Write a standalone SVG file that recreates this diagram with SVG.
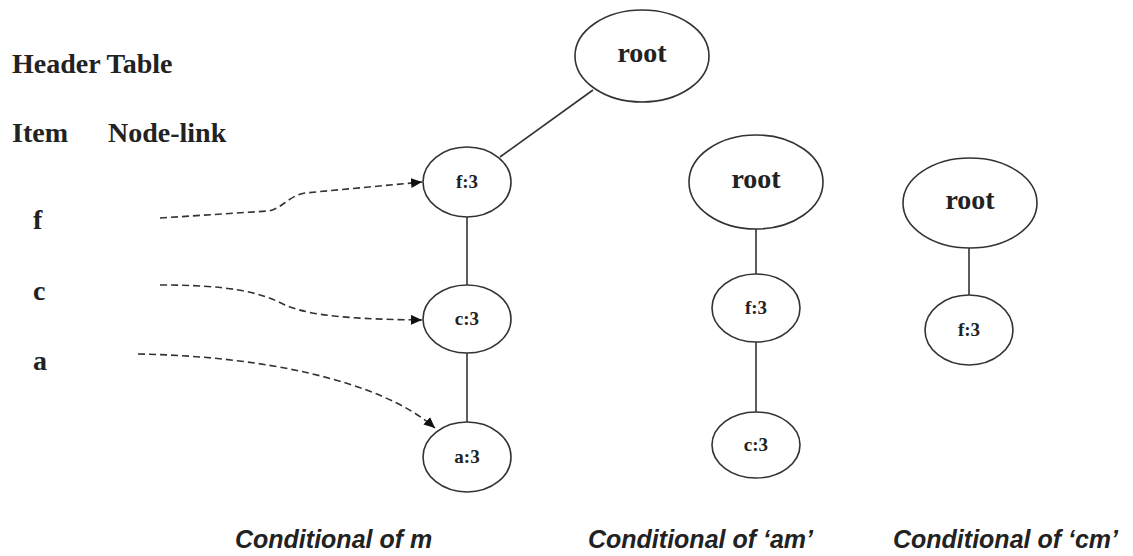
<svg xmlns="http://www.w3.org/2000/svg" width="1133" height="556" viewBox="0 0 1133 556">
<defs>
<style>
.node ellipse{fill:#fff;stroke:#333;stroke-width:1.6}
.lbl{font-family:"Liberation Serif","Times New Roman",serif;font-weight:bold;fill:#222;text-anchor:middle}
.big{font-size:28px}
.small{font-size:19px}
.hdr{font-family:"Liberation Serif","Times New Roman",serif;font-weight:bold;font-size:28px;fill:#222}
.cap{font-family:"Liberation Sans",Arial,sans-serif;font-weight:bold;font-style:italic;font-size:25px;fill:#222}
.edge{stroke:#333;stroke-width:1.6;fill:none}
.link{stroke:#333;stroke-width:1.6;fill:none;stroke-dasharray:7 4}
</style>
<marker id="arr" markerUnits="userSpaceOnUse" markerWidth="12" markerHeight="10" refX="11" refY="5" orient="auto">
<path d="M0,0 L11,5 L0,10 z" fill="#111"/>
</marker>
</defs>
<rect width="1133" height="556" fill="#fff"/>

<g id="header-table">
<text class="hdr" x="12" y="73">Header Table</text>
<text class="hdr" x="12" y="142">Item</text>
<text class="hdr" x="108" y="142">Node-link</text>
<text class="hdr" x="33" y="229">f</text>
<text class="hdr" x="33" y="300">c</text>
<text class="hdr" x="33" y="370">a</text>
</g>

<g id="connectors">
<line class="edge" x1="500" y1="157" x2="593" y2="90"/>
<line class="edge" x1="467" y1="217" x2="467" y2="285"/>
<line class="edge" x1="467" y1="353" x2="467" y2="422"/>
<line class="edge" x1="756" y1="229" x2="756" y2="274"/>
<line class="edge" x1="756" y1="342" x2="756" y2="412"/>
<line class="edge" x1="969" y1="248" x2="969" y2="295"/>
<path class="link" d="M160,218 L268,211 C282,209 288,196 305,193 L422,182" marker-end="url(#arr)"/>
<path class="link" d="M160,285 C230,285 260,292 285,305 C305,313 330,319 422,320" marker-end="url(#arr)"/>
<path class="link" d="M138,354 C260,356 380,380 435,428" marker-end="url(#arr)"/>
</g>

<g id="root-m" class="node">
<ellipse cx="642" cy="56" rx="67" ry="46"/>
<text class="lbl big" x="642" y="62">root</text>
</g>
<g id="m-f3" class="node">
<ellipse cx="467" cy="182" rx="44" ry="35"/>
<text class="lbl small" x="467" y="188">f:3</text>
</g>
<g id="m-c3" class="node">
<ellipse cx="467" cy="319" rx="44" ry="34"/>
<text class="lbl small" x="467" y="325">c:3</text>
</g>
<g id="m-a3" class="node">
<ellipse cx="467" cy="457" rx="44" ry="35"/>
<text class="lbl small" x="467" y="463">a:3</text>
</g>

<g id="root-am" class="node">
<ellipse cx="756" cy="182" rx="67" ry="47"/>
<text class="lbl big" x="756" y="188">root</text>
</g>
<g id="am-f3" class="node">
<ellipse cx="756" cy="308" rx="44" ry="34"/>
<text class="lbl small" x="756" y="314">f:3</text>
</g>
<g id="am-c3" class="node">
<ellipse cx="756" cy="445" rx="44" ry="33"/>
<text class="lbl small" x="756" y="451">c:3</text>
</g>

<g id="root-cm" class="node">
<ellipse cx="970" cy="203" rx="67" ry="45"/>
<text class="lbl big" x="970" y="209">root</text>
</g>
<g id="cm-f3" class="node">
<ellipse cx="969" cy="330" rx="44" ry="35"/>
<text class="lbl small" x="969" y="336">f:3</text>
</g>

<g id="captions">
<text class="cap" x="235" y="548">Conditional of m</text>
<text class="cap" x="588" y="548">Conditional of ‘am’</text>
<text class="cap" x="893" y="548">Conditional of ‘cm’</text>
</g>
</svg>
